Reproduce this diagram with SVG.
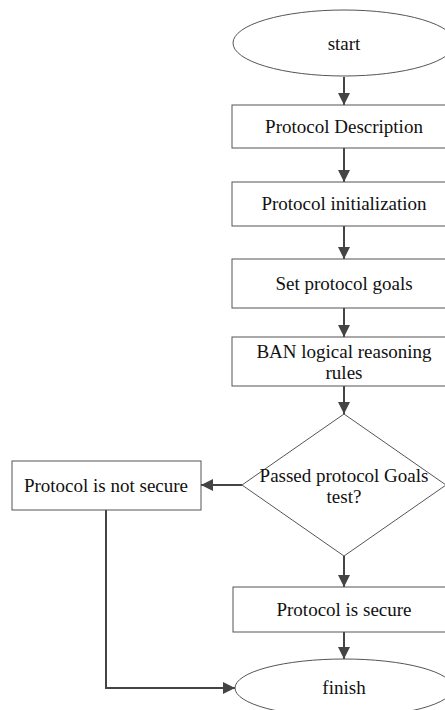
<svg xmlns="http://www.w3.org/2000/svg" width="445" height="710" viewBox="0 0 445 710">
<style>
.s{fill:#fff;stroke:#555;stroke-width:1}
.t{font-family:"Liberation Serif","Times New Roman",serif;font-size:19px;fill:#111;text-anchor:middle}
.c{fill:none;stroke:#444;stroke-width:2}
</style>
<defs>
<marker id="a" viewBox="0 0 12 12" refX="12" refY="6" markerWidth="12" markerHeight="12" markerUnits="userSpaceOnUse" orient="auto">
<path d="M0,0 L12,6 L0,12 Z" fill="#444"/>
</marker>
</defs>
<rect width="445" height="710" fill="#fff"/>
<g id="connectors">
<line class="c" x1="344" y1="77" x2="344" y2="105" marker-end="url(#a)"/>
<line class="c" x1="344" y1="148" x2="344" y2="182" marker-end="url(#a)"/>
<line class="c" x1="344" y1="226" x2="344" y2="259" marker-end="url(#a)"/>
<line class="c" x1="344" y1="308" x2="344" y2="337" marker-end="url(#a)"/>
<line class="c" x1="344" y1="386" x2="344" y2="414" marker-end="url(#a)"/>
<line class="c" x1="242" y1="485" x2="201" y2="485" marker-end="url(#a)"/>
<line class="c" x1="344" y1="556" x2="344" y2="587" marker-end="url(#a)"/>
<line class="c" x1="344" y1="632" x2="344" y2="659" marker-end="url(#a)"/>
<polyline class="c" points="106,510 106,688 235,688" marker-end="url(#a)"/>
</g>
<g id="start"><ellipse class="s" cx="344" cy="43" rx="111" ry="33"/><text class="t" x="344" y="50">start</text></g>
<g id="desc"><rect class="s" x="232" y="105" width="224" height="43"/><text class="t" x="344" y="133">Protocol Description</text></g>
<g id="init"><rect class="s" x="232" y="182" width="224" height="44"/><text class="t" x="344" y="210">Protocol initialization</text></g>
<g id="goals"><rect class="s" x="232" y="259" width="224" height="49"/><text class="t" x="344" y="290">Set protocol goals</text></g>
<g id="ban"><rect class="s" x="232" y="337" width="224" height="49"/><text class="t" x="344" y="358">BAN logical reasoning</text><text class="t" x="344" y="379">rules</text></g>
<g id="decision"><polygon class="s" points="344,414 446,485 344,556 242,485"/><text class="t" x="344" y="482">Passed protocol Goals</text><text class="t" x="344" y="503">test?</text></g>
<g id="notsecure"><rect class="s" x="12" y="461" width="189" height="49"/><text class="t" x="106" y="492">Protocol is not secure</text></g>
<g id="secure"><rect class="s" x="233" y="587" width="223" height="45"/><text class="t" x="344" y="616">Protocol is secure</text></g>
<g id="finish"><ellipse class="s" cx="344" cy="688" rx="109" ry="29"/><text class="t" x="344" y="694">finish</text></g>
</svg>
